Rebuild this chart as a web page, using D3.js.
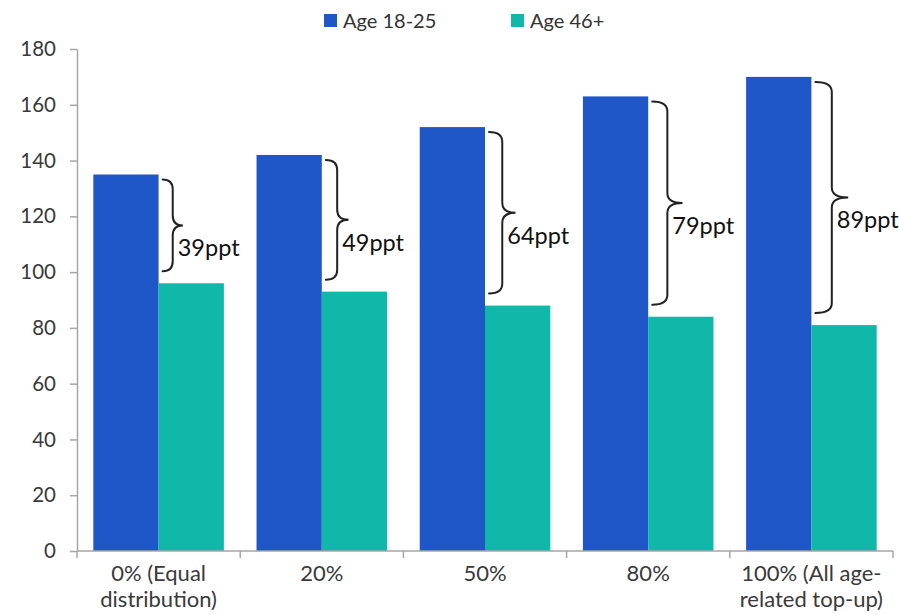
<!DOCTYPE html>
<html>
<head>
<meta charset="utf-8">
<script src="https://cdn.jsdelivr.net/npm/d3@7"></script>
<style>
  html, body { margin: 0; padding: 0; background: #fff; }
  svg { display: block; font-family: Lato, "Liberation Sans", sans-serif; }
</style>
</head>
<body>
<svg id="chart" width="899" height="614"></svg>
<script>
// Scenario categories (two-line labels)
const categories = [
  ["0% (Equal", "distribution)"],
  ["20%"],
  ["50%"],
  ["80%"],
  ["100% (All age-", "related top-up)"]
];
const seriesNames = ["Age 18-25", "Age 46+"];
const young = [135, 142, 152, 163, 170];
const old = [96, 93, 88, 84, 81];
const gapLabels = ["39ppt", "49ppt", "64ppt", "79ppt", "89ppt"];
const yTicks = [0, 20, 40, 60, 80, 100, 120, 140, 160, 180];

const colors = ["#1f57c9", "#0fb8a9"];
const axisColor = "#a6a6a6";
const textColor = "#3a3a3a";

const svg = d3.select("#chart");
const margin = { left: 77, right: 6, top: 49, bottom: 63 };
const W = 899, H = 614;

const x = d3.scaleBand()
  .domain(d3.range(categories.length))
  .range([margin.left, W - margin.right])
  .paddingInner(0.2)
  .paddingOuter(0.1);
const xSub = d3.scaleBand()
  .domain([0, 1])
  .range([0, x.bandwidth()]);
const y = d3.scaleLinear().domain([0, 180]).range([H - margin.bottom, margin.top]);

// Bars
const groups = svg.append("g").selectAll("g")
  .data(categories.map((c, i) => ({ i, vals: [young[i], old[i]] })))
  .join("g")
  .attr("transform", d => `translate(${x(d.i)},0)`);

groups.selectAll("rect")
  .data(d => d.vals.map((v, s) => ({ v, s })))
  .join("rect")
  .attr("x", d => xSub(d.s))
  .attr("width", xSub.bandwidth())
  .attr("y", d => y(d.v))
  .attr("height", d => y(0) - y(d.v))
  .attr("fill", d => colors[d.s]);

// Y axis
const yAxis = svg.append("g")
  .attr("transform", `translate(${margin.left},0)`)
  .call(d3.axisLeft(y).tickValues(yTicks).tickSize(7).tickSizeOuter(0).tickPadding(14));
yAxis.select(".domain").attr("stroke", axisColor).attr("stroke-width", 1.5);
yAxis.selectAll(".tick line").attr("stroke", axisColor).attr("stroke-width", 1.5);
yAxis.selectAll(".tick text")
  .attr("fill", textColor)
  .style("font-size", "20.5px")
  .style("font-family", "Lato, sans-serif");

// X axis: line with ticks at band boundaries
const xAxisG = svg.append("g");
const y0 = y(0);
xAxisG.append("line")
  .attr("x1", margin.left).attr("x2", W - margin.right)
  .attr("y1", y0).attr("y2", y0)
  .attr("stroke", axisColor).attr("stroke-width", 1.5);
const step = x.step();
const boundaries = d3.range(categories.length + 1).map(i => margin.left + i * step);
xAxisG.selectAll("line.tk")
  .data(boundaries)
  .join("line")
  .attr("class", "tk")
  .attr("x1", d => d).attr("x2", d => d)
  .attr("y1", y0).attr("y2", y0 + 7)
  .attr("stroke", axisColor).attr("stroke-width", 1.5);

// Category labels, one text per line
const catG = svg.append("g");
categories.forEach((lines, i) => {
  lines.forEach((ln, k) => {
    catG.append("text")
      .attr("x", x(i) + x.bandwidth() / 2)
      .attr("y", 581 + k * 26)
      .attr("text-anchor", "middle")
      .attr("fill", textColor)
      .style("font-size", "22px")
      .text(ln);
  });
});

// Curly braces showing the gap between the two age groups
const braceG = svg.append("g");
categories.forEach((c, i) => {
  const barRight = x(i) + xSub(0) + xSub.bandwidth();
  const top = y(young[i]) + 5;
  const bottom = y(old[i]) - 12;
  const mid = (top + bottom) / 2;
  const h = bottom - top;
  const w = 6 + h * 0.045;
  const sx = barRight + 4 + w;
  const r = Math.min(w, 10);
  const p = d3.path();
  p.moveTo(sx - w, top);
  p.quadraticCurveTo(sx, top, sx, top + r);
  p.lineTo(sx, mid - r);
  p.quadraticCurveTo(sx, mid, sx + w, mid);
  p.quadraticCurveTo(sx, mid, sx, mid + r);
  p.lineTo(sx, bottom - r);
  p.quadraticCurveTo(sx, bottom, sx - w, bottom);
  braceG.append("path")
    .attr("d", p.toString())
    .attr("fill", "none")
    .attr("stroke", "#222")
    .attr("stroke-width", 2)
    .attr("stroke-linecap", "round");
  braceG.append("text")
    .attr("x", sx + 5)
    .attr("y", mid + 31)
    .attr("fill", "#111")
    .style("font-size", "23.5px")
    .text(gapLabels[i]);
});

// Legend
const legendItems = [
  { name: seriesNames[0], color: colors[0], x: 324 },
  { name: seriesNames[1], color: colors[1], x: 511 }
];
const lg = svg.append("g");
legendItems.forEach(d => {
  lg.append("rect")
    .attr("x", d.x).attr("y", 14)
    .attr("width", 13).attr("height", 13)
    .attr("fill", d.color);
  lg.append("text")
    .attr("x", d.x + 19)
    .attr("y", 28)
    .attr("fill", "#333")
    .style("font-size", "20px")
    .text(d.name);
});
</script>
</body>
</html>
